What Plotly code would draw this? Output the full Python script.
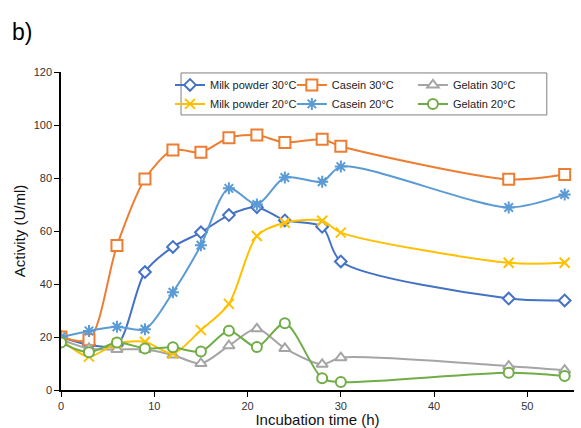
import plotly.graph_objects as go

time_h = [0, 3, 6, 9, 12, 15, 18, 21, 24, 28, 30, 48, 54]

milk_30 = [20, 17, 17, 44.5, 54, 59.5, 66, 69, 64, 61.6, 48.5, 34.5, 33.8]
casein_30 = [20, 19, 54.5, 79.6, 90.6, 89.7, 95.2, 96.2, 93.4, 94.6, 92, 79.5, 81.3]
gelatin_30 = [19, 15.7, 15.3, 15.3, 13.2, 10, 16.7, 23.1, 15.7, 9.7, 12.2, 9, 7.5]
milk_20 = [19, 12.6, 17.6, 18.2, 13.8, 22.6, 32.5, 58.1, 63.1, 63.9, 59.4, 48, 48]
casein_20 = [20, 22.3, 23.9, 22.9, 36.9, 54.6, 76.1, 70, 80.2, 78.6, 84.3, 68.9, 73.8]
gelatin_20 = [17.9, 14.2, 17.9, 15.7, 16.1, 14.5, 22.4, 16.2, 25.2, 4.4, 3, 6.5, 5.3]

series = [
    ("Milk powder 30°C", milk_30, "#4472C4", "diamond", 9, "legend"),
    ("Casein 30°C", casein_30, "#ED7D31", "square", 11, "legend2"),
    ("Gelatin 30°C", gelatin_30, "#A5A5A5", "triangle-up", 10, "legend3"),
    ("Milk powder 20°C", milk_20, "#FFC000", "x-thin", 10, "legend"),
    ("Casein 20°C", casein_20, "#5B9BD5", "asterisk", 10, "legend2"),
    ("Gelatin 20°C", gelatin_20, "#70AD47", "circle", 10, "legend3"),
]

fig = go.Figure()
for name, vals, col, sym, sz, leg in series:
    open_sym = sym in ("x-thin", "asterisk")
    fig.add_trace(go.Scatter(
        x=time_h, y=vals, name=name, mode="lines+markers",
        line=dict(color=col, width=2, shape="spline", smoothing=0.8),
        marker=dict(symbol=sym, size=sz, color=col if open_sym else "white",
                    line=dict(color=col, width=2)),
        legend=leg,
    ))

font = "Liberation Sans, Arial, sans-serif"
leg_common = dict(orientation="v", bgcolor="rgba(0,0,0,0)",
                  font=dict(family=font, size=11, color="#222"),
                  xanchor="left", yanchor="top", itemwidth=30, tracegroupgap=0,
                  y=1.005, traceorder="normal")

fig.update_layout(
    width=581, height=428,
    margin=dict(l=61, r=7, t=72, b=38),
    plot_bgcolor="white", paper_bgcolor="white",
    font=dict(family=font, color="#222"),
    showlegend=True,
    legend=dict(x=0.2125, **leg_common),
    legend2=dict(x=0.450, **leg_common),
    legend3=dict(x=0.686, **leg_common),
    xaxis=dict(range=[0, 55], tickvals=[0, 10, 20, 30, 40, 50], showgrid=False,
               zeroline=False, showline=True, linecolor="black", linewidth=1.5,
               ticks="outside", ticklen=5, tickcolor="black", automargin=False,
               tickfont=dict(size=11, color="#333"),
               title=dict(text="Incubation time (h)", font=dict(size=15, color="#111"), standoff=10)),
    yaxis=dict(range=[0, 120], tickvals=[0, 20, 40, 60, 80, 100, 120], showgrid=False,
               zeroline=False, showline=True, linecolor="black", linewidth=1.5,
               ticks="outside", ticklen=5, tickcolor="black", automargin=False,
               tickfont=dict(size=11, color="#333"),
               title=dict(text="Activity (U/ml)", font=dict(size=15, color="#111"), standoff=4)),
    shapes=[dict(type="rect", xref="paper", yref="paper", x0=0.234, x1=0.947,
                 y0=0.865, y1=0.997, line=dict(color="#7f7f7f", width=1))],
    annotations=[dict(text="b)", xref="paper", yref="paper", x=-0.099, y=1.126,
                      xanchor="left", yanchor="middle", showarrow=False,
                      font=dict(size=23, color="black", family=font))],
)

fig.write_html("out.html")
